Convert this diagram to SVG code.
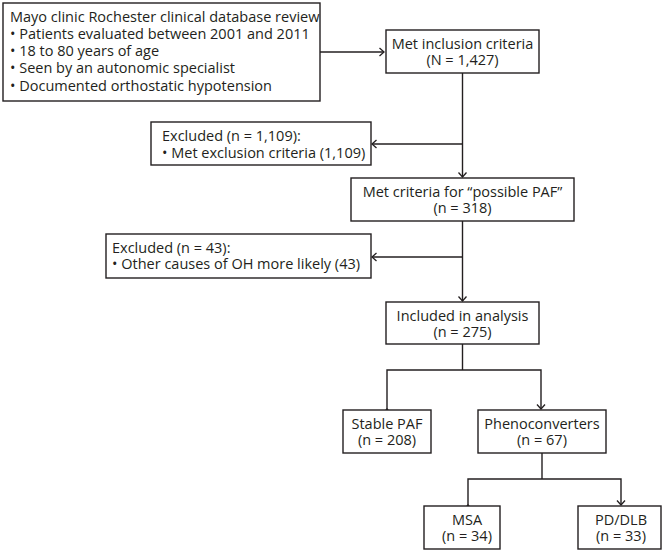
<svg xmlns="http://www.w3.org/2000/svg" width="668" height="552" viewBox="0 0 668 552">
<defs>
<style>
.box{fill:#fff;stroke:#231f20;stroke-width:1.4}
.ln{fill:none;stroke:#231f20;stroke-width:1.4}
.t{font-family:"Open Sans","DejaVu Sans",sans-serif;font-size:14.5px;fill:#231f20}
.c{text-anchor:middle}
</style>
<marker id="ah" viewBox="-6 -5 7 10" refX="0" refY="0" markerWidth="7" markerHeight="10" markerUnits="userSpaceOnUse" orient="auto">
<path d="M-4.5,-4 L0,0 L-4.5,4" fill="none" stroke="#231f20" stroke-width="1.3"/>
</marker>
</defs>
<rect width="668" height="552" fill="#fff"/>
<g id="connectors">
<line class="ln" x1="320" y1="52" x2="384" y2="52" marker-end="url(#ah)"/>
<line class="ln" x1="462.5" y1="73" x2="462.5" y2="177" marker-end="url(#ah)"/>
<line class="ln" x1="462.5" y1="144" x2="372" y2="144" marker-end="url(#ah)"/>
<line class="ln" x1="462.5" y1="221" x2="462.5" y2="301" marker-end="url(#ah)"/>
<line class="ln" x1="462.5" y1="257" x2="372" y2="257" marker-end="url(#ah)"/>
<line class="ln" x1="462.5" y1="344" x2="462.5" y2="370"/>
<polyline class="ln" points="387,409 387,370 541,370 541,409" marker-start="url(#ah)" marker-end="url(#ah)"/>
<line class="ln" x1="542" y1="453" x2="542" y2="479"/>
<polyline class="ln" points="468,505 468,479 621,479 621,505" marker-start="url(#ah)" marker-end="url(#ah)"/>
</g>
<g id="n_source">
<rect class="box" x="3" y="3" width="317" height="98"/>
<text class="t" x="10" y="21.5">Mayo clinic Rochester clinical database review</text>
<text class="t" x="10" y="38.8">• Patients evaluated between 2001 and 2011</text>
<text class="t" x="10" y="56.1">• 18 to 80 years of age</text>
<text class="t" x="10" y="73.4">• Seen by an autonomic specialist</text>
<text class="t" x="10" y="90.7">• Documented orthostatic hypotension</text>
</g>
<g id="n_inclusion">
<rect class="box" x="386" y="30" width="153" height="43"/>
<text class="t c" x="462.5" y="48.5">Met inclusion criteria</text>
<text class="t c" x="462.5" y="65">(N = 1,427)</text>
</g>
<g id="n_excluded1">
<rect class="box" x="151" y="122" width="220" height="43"/>
<text class="t" x="162" y="141">Excluded (n = 1,109):</text>
<text class="t" x="162" y="158">• Met exclusion criteria (1,109)</text>
</g>
<g id="n_possible">
<rect class="box" x="351" y="178" width="223" height="43"/>
<text class="t c" x="462.5" y="196.5">Met criteria for “possible PAF”</text>
<text class="t c" x="462.5" y="213">(n = 318)</text>
</g>
<g id="n_excluded2">
<rect class="box" x="106" y="234" width="265" height="44"/>
<text class="t" x="112" y="252.5">Excluded (n = 43):</text>
<text class="t" x="112" y="269">• Other causes of OH more likely (43)</text>
</g>
<g id="n_included">
<rect class="box" x="386" y="302" width="153" height="42"/>
<text class="t c" x="462.5" y="320.5">Included in analysis</text>
<text class="t c" x="462.5" y="337">(n = 275)</text>
</g>
<g id="n_stable">
<rect class="box" x="343" y="410" width="88" height="43"/>
<text class="t c" x="387" y="428.5">Stable PAF</text>
<text class="t c" x="387" y="445">(n = 208)</text>
</g>
<g id="n_pheno">
<rect class="box" x="478" y="410" width="128" height="43"/>
<text class="t c" x="542" y="428.5">Phenoconverters</text>
<text class="t c" x="542" y="445">(n = 67)</text>
</g>
<g id="n_msa">
<rect class="box" x="424" y="506" width="76" height="43"/>
<text class="t c" x="467" y="524.5">MSA</text>
<text class="t c" x="467" y="541">(n = 34)</text>
</g>
<g id="n_pddlb">
<rect class="box" x="578" y="506" width="83" height="43"/>
<text class="t c" x="621" y="524.5">PD/DLB</text>
<text class="t c" x="621" y="541">(n = 33)</text>
</g>
</svg>
